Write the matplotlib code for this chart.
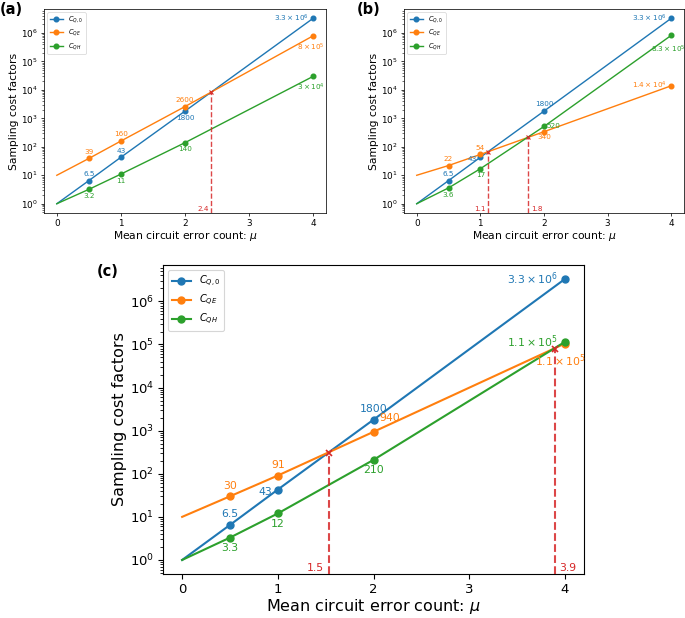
import matplotlib
matplotlib.use("Agg")
import matplotlib.pyplot as plt

# ---------------- data ----------------
mu = [0, 0.5, 1, 2, 4]
series_labels = [r'$C_{Q,0}$', r'$C_{QE}$', r'$C_{QH}$']
colors = ['#1f77b4', '#ff7f0e', '#2ca02c']

a_q0 = [1, 6.5, 43, 1800, 3.3e6]
a_qe = [10, 39, 160, 2600, 8e5]
a_qh = [1, 3.2, 11, 140, 3e4]

b_q0 = [1, 6.5, 43, 1800, 3.3e6]
b_qe = [10, 22, 54, 340, 1.4e4]
b_qh = [1, 3.6, 17, 520, 8.3e5]

c_q0 = [1, 6.5, 43, 1800, 3.3e6]
c_qe = [10, 30, 91, 940, 1.05e5]
c_qh = [1, 3.3, 12, 210, 1.15e5]

a_q0_txt = ['6.5', '43', '1800', r'$3.3\times10^{6}$']
a_qe_txt = ['39', '160', '2600', r'$8\times10^{5}$']
a_qh_txt = ['3.2', '11', '140', r'$3\times10^{4}$']

b_q0_txt = ['6.5', '43', '1800', r'$3.3\times10^{6}$']
b_qe_txt = ['22', '54', '340', r'$1.4\times10^{4}$']
b_qh_txt = ['3.6', '17', '520', r'$8.3\times10^{5}$']

c_q0_txt = ['6.5', '43', '1800', r'$3.3\times10^{6}$']
c_qe_txt = ['30', '91', '940', r'$1.1\times10^{5}$']
c_qh_txt = ['3.3', '12', '210', r'$1.1\times10^{5}$']

a_cross_x = [2.41]
a_cross_y = [8500]
a_cross_txt = ['2.4']

b_cross_x = [1.12, 1.75]
b_cross_y = [67, 220]
b_cross_txt = ['1.1', '1.8']

c_cross_x = [1.53, 3.9]
c_cross_y = [310, 8.0e4]
c_cross_txt = ['1.5', '3.9']

xlabel = r'Mean circuit error count: $\mu$'
ylabel = 'Sampling cost factors'

# ---------------- placement (style only) ----------------
UP = ((0, 4), 'center', 'bottom')
DN = ((0, -4), 'center', 'top')
LF = ((-5, 0), 'right', 'center')
LFD = ((-4, -1.5), 'right', 'center')
RT = ((3, 0), 'left', 'center')
DNL = ((-3, -6), 'center', 'top')
DNL2 = ((-3, -9), 'center', 'top')
UPR = ((4, 6), 'left', 'bottom')
DNC = ((0, -3), 'center', 'top')

a_place = [[UP, UP, DN, LF], [UP, UP, UP, DNL], [DN, DN, DN, DNL]]
b_place = [[UP, LFD, UP, LF], [UP, UP, DNC, LF], [DN, DN, RT, DNL2]]
c_place = [[UP, LFD, UP, LF], [UP, UP, UPR, DNL], [DN, DN, DN, LF]]

a_side = ['left']
b_side = ['left', 'right']
c_side = ['left', 'right']


def draw_panel(ax, ys, txts, places, cx, cy, ctxt, csides, k):
    tick_fs = 9.5 * k
    lab_fs = 11.5 * k
    ann_fs = 7.8 * k
    leg_fs = 7.0 * k
    ms = 5 * k
    lw = 1.5 * k
    for y, lab, col in zip(ys, series_labels, colors):
        ax.plot(mu, y, '-o', color=col, lw=lw, ms=ms, markevery=[1, 2, 3, 4],
                label=lab)
    ax.set_yscale('log')
    ax.set_xticks([0, 1, 2, 3, 4])
    ax.autoscale_view()
    lo, hi = ax.get_ylim()
    for y, tl, pl, col in zip(ys, txts, places, colors):
        for xi, yi, t, (off, ha, va) in zip(mu[1:], y[1:], tl, pl):
            ax.annotate(t, (xi, yi), xytext=(off[0] * k, off[1] * k),
                        textcoords='offset points', ha=ha, va=va,
                        color=col, fontsize=ann_fs)
    red = '#d62728'
    for xi, yi, t, side in zip(cx, cy, ctxt, csides):
        ax.vlines(xi, lo, yi, colors=red, linestyles='--', lw=lw, alpha=0.85,
                  zorder=3)
        ax.plot([xi], [yi], 'x', color=red, ms=ms * 1.0, mew=lw * 0.8,
                zorder=4)
        dx = -3 if side == 'left' else 3
        ax.annotate(t, (xi, 0), xycoords=('data', 'axes fraction'),
                    xytext=(dx * k, 1 * k), textcoords='offset points',
                    ha='right' if side == 'left' else 'left', va='bottom',
                    color=red, fontsize=ann_fs)
    ax.set_ylim(lo, hi)
    ax.set_xlabel(xlabel, fontsize=lab_fs, labelpad=0.5 * k)
    ax.set_ylabel(ylabel, fontsize=lab_fs, labelpad=2 * k)
    ax.tick_params(axis='both', which='major', labelsize=tick_fs,
                   length=3.5 * k, width=0.8 * k, pad=3 * k)
    ax.tick_params(axis='both', which='minor', length=2 * k, width=0.6 * k)
    for sp in ax.spines.values():
        sp.set_linewidth(0.8 * k)
    leg = ax.legend(loc='upper left', fontsize=leg_fs, handlelength=2.0,
                    borderpad=0.4, labelspacing=0.4, handletextpad=0.8)
    leg.get_frame().set_linewidth(0.8 * k)


fig = plt.figure(figsize=(6.85, 6.18), dpi=100)
W, H = 685.0, 618.0
ax_a = fig.add_axes([44 / W, (H - 213) / H, 282 / W, 204 / H])
ax_b = fig.add_axes([404 / W, (H - 213) / H, 280 / W, 204 / H])
ax_c = fig.add_axes([163 / W, (H - 574) / H, 421 / W, 309 / H])

k_small = 0.67
draw_panel(ax_a, [a_q0, a_qe, a_qh], [a_q0_txt, a_qe_txt, a_qh_txt], a_place,
           a_cross_x, a_cross_y, a_cross_txt, a_side, k_small)
draw_panel(ax_b, [b_q0, b_qe, b_qh], [b_q0_txt, b_qe_txt, b_qh_txt], b_place,
           b_cross_x, b_cross_y, b_cross_txt, b_side, k_small)
draw_panel(ax_c, [c_q0, c_qe, c_qh], [c_q0_txt, c_qe_txt, c_qh_txt], c_place,
           c_cross_x, c_cross_y, c_cross_txt, c_side, 1.0)

fig.text(0 / W, 1 - 2 / H, '(a)', fontsize=10.5, fontweight='bold',
         ha='left', va='top')
fig.text(357 / W, 1 - 2 / H, '(b)', fontsize=10.5, fontweight='bold',
         ha='left', va='top')
fig.text(97 / W, 1 - 264 / H, '(c)', fontsize=10.5, fontweight='bold',
         ha='left', va='top')

fig.savefig('out.png', dpi=100)
